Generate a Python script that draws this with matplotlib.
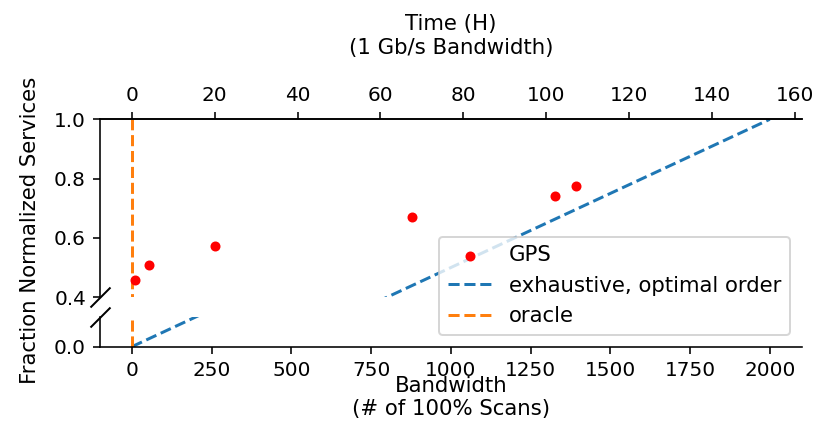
import numpy as np
import matplotlib
matplotlib.use("Agg")
import matplotlib.pyplot as plt

# data
gps_x = [11, 54, 261, 879, 1328, 1391]
gps_y = [0.458, 0.509, 0.573, 0.671, 0.741, 0.775]
exhaustive_x = [0, 2000]
exhaustive_y = [0.0, 1.0]
oracle_x = [0, 0]
oracle_y = [0.0, 1.0]

bw_ticks = [0, 250, 500, 750, 1000, 1250, 1500, 1750, 2000]
time_ticks = [0, 20, 40, 60, 80, 100, 120, 140, 160]
HOURS_PER_SCAN = 0.077
XLIM = (-100, 2100)

plt.rcParams['font.size'] = 10
LABEL_FS = 10.6

fig = plt.figure(figsize=(831 / 144, 439 / 144), dpi=144)
ax_top = fig.add_axes([0.1203, 0.3230, 0.8444, 0.4052])
ax_bot = fig.add_axes([0.1203, 0.2103, 0.8444, 0.0676])

for ax in (ax_top, ax_bot):
    ax.scatter(gps_x, gps_y, c='r', s=16, label='GPS', zorder=3)
    ax.plot(exhaustive_x, exhaustive_y, '--', color='C0', lw=1.5,
            label='exhaustive, optimal order')
    ax.plot(oracle_x, oracle_y, '--', color='C1', lw=1.5, label='oracle')
    ax.set_xlim(*XLIM)
    ax.spines['right'].set_visible(False)

ax_top.set_ylim(0.4, 1.0)
ax_top.set_yticks([0.4, 0.6, 0.8, 1.0])
ax_top.spines['bottom'].set_visible(False)

ax_bot.set_ylim(0.0, 0.1)
ax_bot.set_yticks([0.0])
ax_bot.set_yticklabels(['0.0'])
ax_bot.set_xticks(bw_ticks)
ax_bot.spines['top'].set_visible(False)
ax_bot.set_xlabel('Bandwidth\n(# of 100% Scans)', fontsize=LABEL_FS)
ax_bot.xaxis.set_label_coords(0.5, -0.99)

# time axis on top
ax_time = ax_top.twiny()
ax_time.set_xlim(XLIM[0] * HOURS_PER_SCAN, XLIM[1] * HOURS_PER_SCAN)
ax_time.set_xticks(time_ticks)
for s in ('right', 'bottom', 'left'):
    ax_time.spines[s].set_visible(False)
ax_time.set_xlabel('Time (H)\n(1 Gb/s Bandwidth)', fontsize=LABEL_FS)
ax_time.xaxis.set_label_coords(0.5, 1.37)
ax_top.tick_params(axis='x', bottom=False, labelbottom=False,
                   top=False, labeltop=False)

# break marks
kw = dict(marker=[(-1, -1), (1, 1)], markersize=10, linestyle='none',
          color='k', mec='k', mew=1, clip_on=False)
ax_top.plot([0], [0], transform=ax_top.transAxes, **kw)
ax_bot.plot([0], [1], transform=ax_bot.transAxes, **kw)

fig.text(30 / 831, 1 - 230 / 439, 'Fraction Normalized Services',
         rotation=90, ha='center', va='center', fontsize=LABEL_FS)

handles, labels = ax_top.get_legend_handles_labels()
fig.legend(handles, labels, loc='upper right', handlelength=2.1,
           fontsize=LABEL_FS, handletextpad=0.8,
           bbox_to_anchor=(790 / 831, 1 - 236.7 / 439), borderaxespad=0)

fig.savefig('out.png', dpi=144)
